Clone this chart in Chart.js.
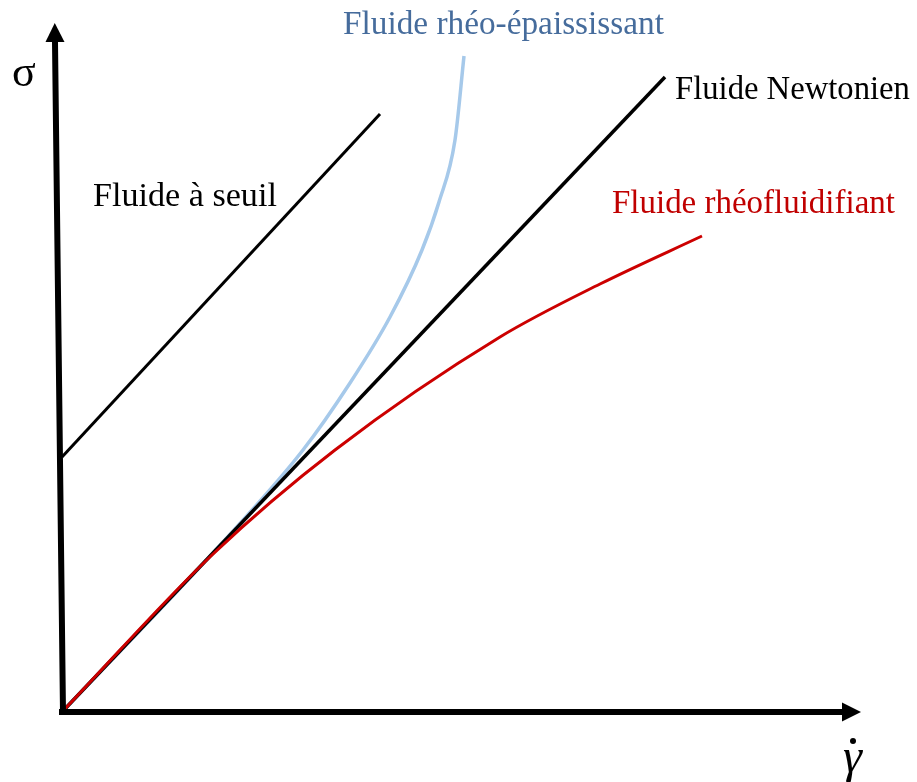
<!DOCTYPE html>
<html>
<head>
<meta charset="utf-8">
<script src="https://cdn.jsdelivr.net/npm/chart.js@4/dist/chart.umd.min.js"></script>
<style>
  html, body { margin: 0; padding: 0; background: #fff; }
  canvas { display: block; }
</style>
</head>
<body>
<canvas id="rheoChart" width="917" height="782"></canvas>
<script>
// shear rate (x) / shear stress (y), arbitrary units
const axisX = [{ x: -0.03, y: 0 }, { x: 7.8, y: 0 }];
const axisY = [{ x: 0.01, y: 0 }, { x: -0.07, y: 6.70 }];

const newtonien = [{ x: 0, y: 0 }, { x: 6.03, y: 6.35 }];
const seuil = [{ x: 0, y: 2.55 }, { x: 3.18, y: 5.98 }];
const epaississant = [
	{ x: 0, y: 0 }, { x: 1.6, y: 1.69 }, { x: 2.41, y: 2.62 }, { x: 2.88, y: 3.29 },
	{ x: 3.28, y: 3.95 }, { x: 3.6, y: 4.62 }, { x: 3.77, y: 5.1 }, { x: 3.93, y: 5.72 },
	{ x: 4.02, y: 6.56 },
];
const fluidifiant = [
	{ x: 0, y: 0 }, { x: 1.5, y: 1.57 }, { x: 2.73, y: 2.62 }, { x: 4.38, y: 3.75 },
	{ x: 5.38, y: 4.28 }, { x: 6.4, y: 4.76 },
];

const seriesNames = ["Fluide Newtonien", "Fluide à seuil", "Fluide rhéo-épaississant", "Fluide rhéofluidifiant"];
const axisTitles = ["σ", "γ"];

const serif = "'Liberation Serif', 'DejaVu Serif', serif";

// arrow heads at the end of the axis lines
const arrowPlugin = {
	id: "arrows",
	afterDatasetsDraw(chart, args, opts) {
		const ctx = chart.ctx;
		const sx = chart.scales.x, sy = chart.scales.y;
		[axisX, axisY].forEach((pts) => {
			const a = pts[pts.length - 2], b = pts[pts.length - 1];
			const ax = sx.getPixelForValue(a.x), ay = sy.getPixelForValue(a.y);
			const bx = sx.getPixelForValue(b.x), by = sy.getPixelForValue(b.y);
			const ang = Math.atan2(by - ay, bx - ax);
			ctx.save();
			ctx.translate(bx, by);
			ctx.rotate(ang);
			ctx.beginPath();
			ctx.moveTo(opts.length, 0);
			ctx.lineTo(0, -opts.half);
			ctx.lineTo(0, opts.half);
			ctx.closePath();
			ctx.fillStyle = "#000";
			ctx.fill();
			ctx.restore();
		});
	},
};

// curve names and axis symbols, placed in data units
const labelPlugin = {
	id: "labels",
	afterDatasetsDraw(chart, args, opts) {
		const ctx = chart.ctx;
		const sx = chart.scales.x, sy = chart.scales.y;
		ctx.save();
		ctx.textBaseline = "alphabetic";
		opts.items.forEach((it) => {
			let size = it.size;
			if (it.width) {
				// pick the size that gives the measured text width of the original
				ctx.font = `${it.style || ""} ${size}px ${serif}`;
				size = size * it.width / ctx.measureText(it.text).width;
			}
			ctx.font = `${it.style || ""} ${size}px ${serif}`;
			ctx.fillStyle = it.color;
			ctx.fillText(it.text, sx.getPixelForValue(it.x), sy.getPixelForValue(it.y));
		});
		// dot over gamma
		const d = opts.dot;
		ctx.beginPath();
		ctx.arc(sx.getPixelForValue(d.x), sy.getPixelForValue(d.y), d.r, 0, Math.PI * 2);
		ctx.fillStyle = "#000";
		ctx.fill();
		ctx.restore();
	},
};

const line = (data, color, width) => ({
	data: data,
	showLine: true,
	borderColor: color,
	borderWidth: width,
	pointRadius: 0,
	fill: false,
	cubicInterpolationMode: "monotone",
	borderCapStyle: "butt",
});

new Chart(document.getElementById("rheoChart"), {
	type: "scatter",
	data: {
		datasets: [
			line(axisX, "#000", 6),
			line(axisY, "#000", 6),
			line(fluidifiant, "#cc0000", 3),
			line(newtonien, "#000", 3.5),
			line(seuil, "#000", 3),
			line(epaississant, "#a6c9ea", 3.5),
		],
	},
	options: {
		responsive: false,
		devicePixelRatio: 1,
		animation: false,
		layout: { padding: 0 },
		scales: {
			x: { type: "linear", display: false, min: -0.62, max: 8.55 },
			y: { type: "linear", display: false, min: -0.7, max: 7.12 },
		},
		plugins: {
			legend: { display: false },
			tooltip: { enabled: false },
			arrows: { length: 19, half: 9.5 },
			labels: {
				items: [
					{ text: seriesNames[2], x: 2.81, y: 6.78, color: "#466c9c", size: 28, width: 321 },
					{ text: seriesNames[0], x: 6.13, y: 6.13, color: "#000", size: 28, width: 235 },
					{ text: seriesNames[3], x: 5.5, y: 4.99, color: "#c00000", size: 28, width: 283 },
					{ text: seriesNames[1], x: 0.31, y: 5.06, color: "#000", size: 28, width: 184 },
					{ text: axisTitles[0], x: -0.5, y: 6.26, color: "#000", size: 44 },
					{ text: axisTitles[1], x: 7.81, y: -0.6, color: "#000", size: 48, style: "italic" },
				],
				dot: { x: 7.91, y: -0.29, r: 3 },
			},
		},
	},
	plugins: [arrowPlugin, labelPlugin],
});
</script>
</body>
</html>
